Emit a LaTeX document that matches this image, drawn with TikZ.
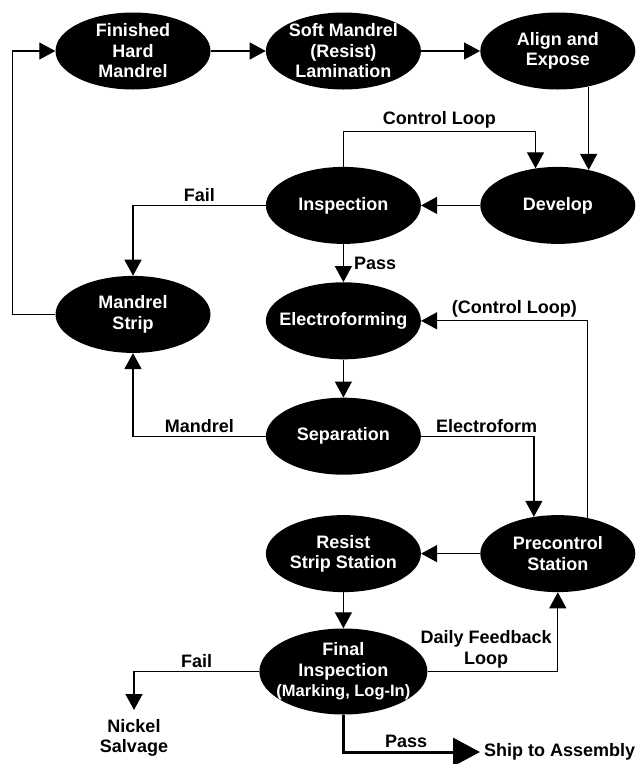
\documentclass[tikz,border=0pt]{standalone}
\usepackage{fontspec}
\setmainfont{Liberation Sans}
\usetikzlibrary{arrows.meta,positioning,shapes.geometric}
\newcommand{\tightline}[1]{{\fontsize{16.5}{20.5}\selectfont #1}}

\begin{document}
\begin{tikzpicture}[
  x=1pt, y=-1pt,
  font=\bfseries\fontsize{18}{20.5}\selectfont,
  txt/.style={align=center, inner sep=3pt},
  nm/.style={txt, text=white},
  stn/.style={ellipse, fill=black, inner sep=0pt, minimum width=155pt, minimum height=77pt,
    label={[nm]center:{#1}}},
  pf/.style={-{Triangle[length=16pt,width=17pt]}, line width=1.3pt},
  big/.style={-{Triangle[length=27pt,width=28pt]}, line width=3pt}
]
\useasboundingbox (0,0) rectangle (638,764);

\node[stn={Finished\\Hard\\Mandrel}] (fhm) at (133,51) {};
\node[stn={Soft Mandrel\\(Resist)\\Lamination}, right=55pt of fhm] (soft) {};
\node[stn={Align and\\Expose}, right=59pt of soft] (align) {};
\node[stn={Inspection}, below=77pt of soft] (insp) {};
\node[stn={Develop}, right=59pt of insp] (devel) {};
\node[stn={Mandrel\\Strip}, below=186pt of fhm] (mstrip) {};
\node[stn={Electroforming}, below=38pt of insp] (elec) {};
\node[stn={Separation}, below=38pt of elec] (sep) {};
\node[stn={Resist\\Strip Station}, below=40pt of sep] (resist) {};
\node[stn={Precontrol\\Station}, right=59pt of resist] (precon) {};
\node[stn={Final\\Inspection\\\tightline{(Marking, Log-In)}}, minimum width=168pt, minimum height=86pt, below=36pt of resist] (fin) {};
\node[txt, inner sep=0pt, outer sep=9pt, anchor=north] (nickel) at (134,710) {Nickel\\Salvage};
\node[txt, inner sep=4pt, anchor=west] (ship) at (480,752) {Ship to Assembly};

% main flow
\draw[pf] (mstrip.west) -- ++(-43pt,0pt) |- (fhm.west);
\draw[pf] (fhm) -- (soft);
\draw[pf] (soft) -- (align);
\draw[pf] (align.-49) -- (devel.49);
\draw[pf] (insp.north) -- ++(0pt,35pt) -| node[txt, pos=.25, above]{Control Loop} (devel.121);
\draw[pf] (devel) -- (insp);
\draw[pf] (insp.west) -| node[txt, pos=.25, above]{Fail} (mstrip.north);
\draw[pf] (insp) -- node[txt, right=7pt]{Pass} (elec);
\draw[pf] (elec) -- (sep);
\draw[pf] (sep.west) -| node[txt, pos=.25, above]{Mandrel} (mstrip.south);
\draw[pf] (sep.east) -| node[txt, pos=.29, above]{Electroform} (precon.123);
\draw[pf] (precon.50) |- node[txt, pos=.72, above]{(Control Loop)} (elec.east);
\draw[pf] (precon) -- (resist);
\draw[pf] (resist) -- (fin);
% final inspection outcomes
\draw[pf] (fin.east) -| node[txt, pos=.225, above]{Daily Feedback\\Loop} (precon.south);
\draw[pf] (fin.west) -| node[txt, pos=.25, above]{Fail} (nickel.north);
\draw[big] (fin.south) |- node[txt, pos=.73, above]{Pass} (ship.west);
\end{tikzpicture}
\end{document}
